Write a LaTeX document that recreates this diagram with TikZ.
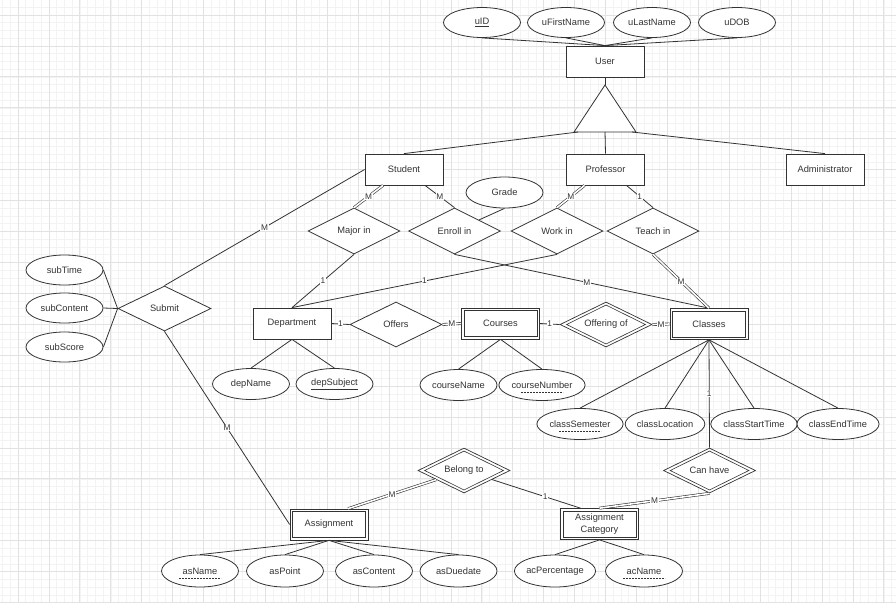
\documentclass[tikz,border=0pt]{standalone}
\usepackage{fontspec}
\setmainfont{Liberation Sans}
\usetikzlibrary{shapes.geometric,calc}
\definecolor{ln}{HTML}{333333}
\definecolor{tx}{HTML}{333333}
\definecolor{gmin}{HTML}{F3F3F3}
\definecolor{gmaj}{HTML}{E2E2E2}
\newcommand{\weakbox}[1]{\draw[ln,line width=0.6pt] ([shift={(3pt,3pt)}]#1.south west) rectangle ([shift={(-3pt,-3pt)}]#1.north east);}
\newcommand{\weakdia}[1]{\draw[ln,line width=0.6pt] ([yshift=-3.4pt]#1.north) -- ([xshift=-7pt]#1.east) -- ([yshift=3.4pt]#1.south) -- ([xshift=7pt]#1.west) -- cycle;}
\begin{document}
\begin{tikzpicture}[x=1pt,y=-1pt,
  every node/.style={text=tx,font=\fontsize{9.3}{11.5}\selectfont},
  ent/.style={draw=ln,line width=0.8pt,rectangle,minimum width=78,minimum height=31,inner sep=0,fill=white},
  went/.style={draw=ln,line width=0.7pt,rectangle,minimum width=78,minimum height=31,inner sep=0,fill=white},
  attr/.style={draw=ln,line width=0.8pt,ellipse,minimum width=77,minimum height=30,inner sep=0,fill=white},
  rel/.style={draw=ln,line width=0.8pt,diamond,aspect=2,minimum width=92,minimum height=46,inner sep=0,fill=white},
  wrel/.style={draw=ln,line width=0.7pt,diamond,aspect=2,minimum width=92,minimum height=45,inner sep=0,fill=white},
  edge/.style={draw=ln,line width=0.8pt},
  dbl/.style={draw=ln,line width=0.6pt,double=white,double distance=1.6pt},
  lbl/.style={fill=white,inner sep=0.6pt,font=\fontsize{8.3}{9}\selectfont},
  dul/.style={draw=ln,line width=0.6pt,dash pattern=on 1.6pt off 1.4pt},
  gridmin/.style={draw=gmin,line width=0.5pt},
  gridmaj/.style={draw=gmaj,line width=0.7pt}]
\useasboundingbox (0,0) rectangle (896,603);
\fill[white] (0,0) rectangle (896,603);
% grid
\foreach \i in {-2,...,113}{\draw[gridmin] ({18+7.73*\i},0) -- ({18+7.73*\i},603);}
\foreach \j in {-1,...,76}{\draw[gridmin] (0,{15+7.73*\j}) -- (896,{15+7.73*\j});}
\foreach \i in {0,...,28}{\draw[gridmaj] ({18+30.92*\i},0) -- ({18+30.92*\i},603);}
\foreach \j in {0,...,19}{\draw[gridmaj] (0,{15+30.92*\j}) -- (896,{15+30.92*\j});}

% user and attributes
\node[attr] (uid) at (482,22.5) {\underline{uID}};
\node[attr] (ufn) at (566,22.5) {uFirstName};
\node[attr] (uln) at (652,22.5) {uLastName};
\node[attr] (udob) at (737,22.5) {uDOB};
\node[ent] (user) at (605,61.5) {User};
\coordinate (tA) at (605,85);
\coordinate (tL) at (574,132);
\coordinate (tR) at (636,132);
\coordinate (tB1) at (578,132);
\coordinate (tB2) at (605,132);
\coordinate (tB3) at (632,132);
\filldraw[edge,fill=white] (tA) -- (tL) -- (tR) -- cycle;

\node[ent] (student) at (404,169.5) {Student};
\node[ent] (prof) at (605.5,169.5) {Professor};
\node[ent] (admin) at (825,169.5) {Administrator};

\node[rel] (major) at (354,231) {Major in};
\node[rel] (enroll) at (454.5,231) {Enroll in};
\node[rel] (work) at (557,231) {Work in};
\node[rel] (teach) at (653,231) {Teach in};
\node[attr,minimum height=31] (grade) at (504.5,192.5) {Grade};

\node[rel,minimum width=93,minimum height=45] (submit) at (164.5,308.5) {Submit};
\node[attr] (subtime) at (64.5,270) {subTime};
\node[attr] (subcontent) at (64.5,308) {subContent};
\node[attr] (subscore) at (64.5,347) {subScore};

\node[ent] (dept) at (292,323.5) {Department};
\node[rel,minimum height=45] (offers) at (396,324.5) {Offers};
\node[went] (courses) at (500.5,323.5) {Courses};
\node[wrel] (offering) at (606,324.5) {Offering of};
\node[went] (classes) at (709,324) {Classes};
\weakbox{courses}
\weakbox{classes}
\weakdia{offering}

\node[attr,minimum height=31] (depname) at (251,384) {depName};
\node[attr,minimum height=31] (depsubj) at (334.5,384) {\underline{depSubject}};
\node[attr,minimum height=31] (cname) at (458.5,385) {courseName};
\node[attr,minimum height=31] (cnum) at (542,385) {courseNumber};

\node[attr,minimum height=31] (csem) at (580,424) {classSemester};
\node[attr,minimum height=31] (cloc) at (665,424) {classLocation};
\node[attr,minimum height=31] (cstart) at (754,424) {classStartTime};
\node[attr,minimum height=31] (cend) at (838,424) {classEndTime};

\node[wrel] (canhave) at (709.5,470.5) {Can have};
\node[wrel] (belong) at (464,470.5) {Belong to};
\node[went] (assign) at (329,524.5) {Assignment};
\node[went,align=center] (ac) at (599.5,524) {Assignment\\Category};
\weakdia{canhave}
\weakdia{belong}
\weakbox{assign}
\weakbox{ac}

\node[attr,minimum height=32] (asname) at (200,571) {asName};
\node[attr,minimum height=32] (aspoint) at (285,571) {asPoint};
\node[attr,minimum height=32] (ascontent) at (374,571) {asContent};
\node[attr,minimum height=32] (asdue) at (458.5,571) {asDuedate};
\node[attr,minimum height=32] (acperc) at (555,571) {acPercentage};
\node[attr,minimum height=32] (acname) at (644,571) {acName};

% dashed underlines (partial keys)
\draw[dul] ([xshift=-21pt,yshift=-7.5pt]cnum.center) -- ++(42,0);
\draw[dul] ([xshift=-21pt,yshift=-7.5pt]csem.center) -- ++(42,0);
\draw[dul] ([xshift=-21pt,yshift=-7.5pt]asname.center) -- ++(42,0);
\draw[dul] ([xshift=-21pt,yshift=-7.5pt]acname.center) -- ++(42,0);

% connectors: user
\draw[edge] (uid.south) -- (user.north);
\draw[edge] (ufn.south) -- (user.north);
\draw[edge] (uln.south) -- (user.north);
\draw[edge] (udob.south) -- (user.north);
\draw[edge] (user.south) -- (tA);
\draw[edge] (tB1) -- (student.north);
\draw[edge] (tB2) -- (prof.north);
\draw[edge] (tB3) -- (admin.north);

% student / professor relationships
\draw[dbl] ([xshift=-21pt]student.south) -- node[lbl]{M} (major.north);
\draw[edge] ([xshift=21pt]student.south) -- node[lbl]{M} (enroll.north);
\draw[edge] (enroll.south) -- node[lbl,pos=0.52]{M} (classes.north);
\draw[edge] (major.south) -- node[lbl]{1} (dept.north);
\draw[dbl] ([xshift=-21pt]prof.south) -- node[lbl]{M} (work.north);
\draw[edge] (work.south) -- node[lbl]{1} (dept.north);
\draw[edge] ([xshift=21pt]prof.south) -- node[lbl]{1} (teach.north);
\draw[dbl] (teach.south) -- node[lbl]{M} (classes.north);
\draw[edge] (grade.south) -- (enroll);

% submit
\draw[edge] (student.west) -- node[lbl]{M} (submit.north);
\draw[edge] (submit.west) -- (subtime.east);
\draw[edge] (submit.west) -- (subcontent.east);
\draw[edge] (submit.west) -- (subscore.east);
\draw[edge] (submit.south) -- node[lbl]{M} (assign.west);

% middle row
\draw[edge] (dept.east) -- node[lbl]{1} (offers.west);
\draw[dbl] (offers.east) -- node[lbl]{M} (courses.west);
\draw[edge] (courses.east) -- node[lbl]{1} (offering.west);
\draw[dbl] (offering.east) -- node[lbl]{M} (classes.west);

\draw[edge] (dept.south) -- (depname.north);
\draw[edge] (dept.south) -- (depsubj.north);
\draw[edge] (courses.south) -- (cname.north);
\draw[edge] (courses.south) -- (cnum.north);

\draw[edge] (classes.south) -- (csem.north);
\draw[edge] (classes.south) -- (cloc.north);
\draw[edge] (classes.south) -- (cstart.north);
\draw[edge] (classes.south) -- (cend.north);
\draw[edge] (classes.south) -- node[lbl]{1} (canhave.north);

% assignment part
\draw[dbl] (belong) -- node[lbl]{M} ([xshift=19pt]assign.north);
\draw[edge] (belong) -- node[lbl,pos=0.6]{1} ([xshift=-19pt]ac.north);
\draw[dbl] (canhave.south) -- node[lbl]{M} (ac.north);

\draw[edge] (assign.south) -- (asname.north);
\draw[edge] (assign.south) -- (aspoint.north);
\draw[edge] (assign.south) -- (ascontent.north);
\draw[edge] (assign.south) -- (asdue.north);
\draw[edge] (ac.south) -- (acperc.north);
\draw[edge] (ac.south) -- (acname.north);
\end{tikzpicture}
\end{document}
